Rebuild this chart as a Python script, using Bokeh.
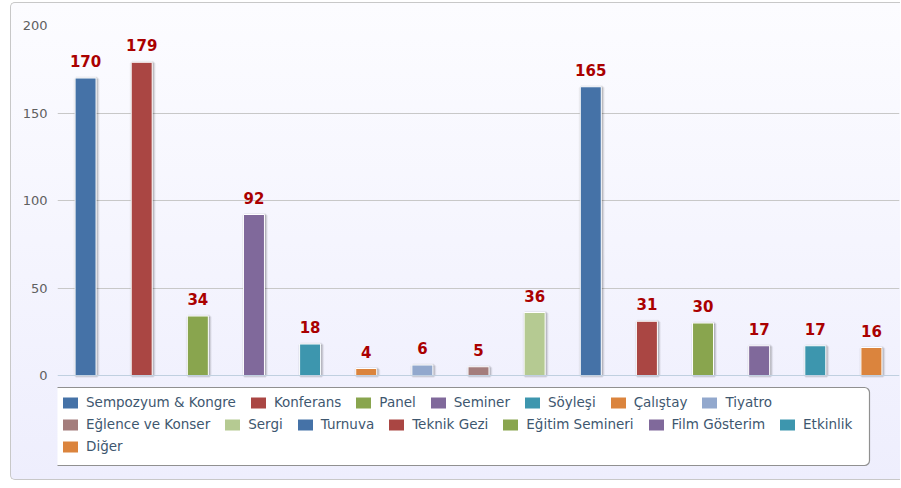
from bokeh.plotting import figure
from bokeh.models import Legend, LegendItem, BoxAnnotation, FixedTicker, Range1d, ColumnDataSource, Span
from bokeh.transform import dodge
from bokeh.core.properties import value
from bokeh.embed import file_html
from bokeh.resources import INLINE

categories = ["Sempozyum & Kongre", "Konferans", "Panel", "Seminer", "Söyleşi",
              "Çalıştay", "Tiyatro", "Eğlence ve Konser", "Sergi", "Turnuva",
              "Teknik Gezi", "Eğitim Semineri", "Film Gösterim", "Etkinlik", "Diğer"]
counts = [170, 179, 34, 92, 18, 4, 6, 5, 36, 165, 31, 30, 17, 17, 16]
colors = ["#4572A7", "#AA4643", "#89A54E", "#80699B", "#3D96AE", "#DB843D",
          "#92A8CD", "#A47D7C", "#B5CA92", "#4572A7", "#AA4643", "#89A54E",
          "#80699B", "#3D96AE", "#DB843D"]
y_ticks = [0, 50, 100, 150, 200]
legend_rows = [list(range(0, 7)), list(range(7, 14)), [14]]

FONT = "DejaVu Sans"
W = 890
LEFT, TOP = 46, 22
FRAME_W = 842
PLOT_H = 350          # height of the 0..200 value area
BELOW = 106           # legend area inside the frame, below the 0 line
H = TOP + PLOT_H + BELOW

px_x = len(categories) / FRAME_W
px_y = (y_ticks[-1] - y_ticks[0]) / PLOT_H
y_start = y_ticks[0] - BELOW * px_y

p = figure(width=W, height=H, output_backend="svg", toolbar_location=None,
           x_range=Range1d(-0.5, len(categories) - 0.5),
           y_range=Range1d(y_start, y_ticks[-1]),
           min_border_left=LEFT, min_border_right=W - LEFT - FRAME_W,
           min_border_top=TOP, min_border_bottom=0)
p.styles = {"background": "linear-gradient(to bottom, #FCFCFF 0%, #EEEEFD 100%)",
            "margin-left": "10px", "margin-top": "2px",
            "border-left": "1px solid #C8C8C8", "border-top": "1px solid #C8C8C8",
            "border-bottom": "1px solid #C8C8C8",
            "border-top-left-radius": "5px", "border-bottom-left-radius": "5px"}
p.border_fill_alpha = 0
p.background_fill_alpha = 0
p.outline_line_color = None

# axes
p.yaxis.ticker = FixedTicker(ticks=y_ticks)
p.yaxis.axis_line_color = None
p.yaxis.major_tick_line_color = None
p.yaxis.minor_tick_line_color = None
p.yaxis.major_tick_out = 0
p.yaxis.major_tick_in = 0
p.yaxis.major_label_standoff = 10
p.yaxis.major_label_text_font = FONT
p.yaxis.major_label_text_font_size = "13px"
p.yaxis.major_label_text_color = "#606060"
p.xaxis.visible = False

p.xgrid.grid_line_color = None
p.ygrid.ticker = FixedTicker(ticks=y_ticks[1:])
p.ygrid.grid_line_color = "#C8C8C8"

src = ColumnDataSource(dict(x=list(range(len(categories))), top=counts,
                            color=colors, label=[str(v) for v in counts],
                            name=categories))

BAR_W = 21 * px_x

# shadows (Highcharts-like)
for lw, la in [(5, 0.05), (3, 0.1), (1, 0.15)]:
    p.vbar(x=dodge("x", px_x, range=p.x_range), top=dodge("top", -px_y), bottom=0,
           width=BAR_W, source=src, fill_alpha=0, line_color="black",
           line_alpha=la, line_width=lw)

bar_renderers = []
for i in range(len(categories)):
    r = p.vbar(x=[i], top=[counts[i]], width=BAR_W, fill_color=colors[i],
               line_color="white", line_width=1)
    bar_renderers.append(r)

# x axis line at 0
p.add_layout(Span(location=0, dimension="width", line_color="#C0D0E0", line_width=1))

p.text(x="x", y="top", text="label", source=src, text_align="center",
       text_baseline="alphabetic", y_offset=-17, text_color="#AA0000",
       text_font=value(FONT), text_font_style="bold", text_font_size="15px")

# legend box (screen px relative to the frame's bottom-left)
box = BoxAnnotation(left=-5, right=812, top=94, bottom=16,
                    left_units="screen", right_units="screen",
                    top_units="screen", bottom_units="screen",
                    fill_color="white", fill_alpha=1, line_color="#909090",
                    line_alpha=1, line_width=1.2, border_radius=5)
p.add_layout(box)

row_bottoms = [71, 49, 27]
for row, yb in zip(legend_rows, row_bottoms):
    items = [LegendItem(label=categories[i], renderers=[bar_renderers[i]]) for i in row]
    lg = Legend(items=items, orientation="horizontal", location=(3, yb),
                glyph_width=20, glyph_height=15, label_height=15,
                label_standoff=6, spacing=12, padding=0, margin=0,
                background_fill_alpha=0, border_line_color=None,
                label_text_font=FONT, label_text_font_size="13.5px",
                label_text_color="#3E576F")
    p.add_layout(lg)

open("out.html", "w").write(file_html(p, INLINE))
